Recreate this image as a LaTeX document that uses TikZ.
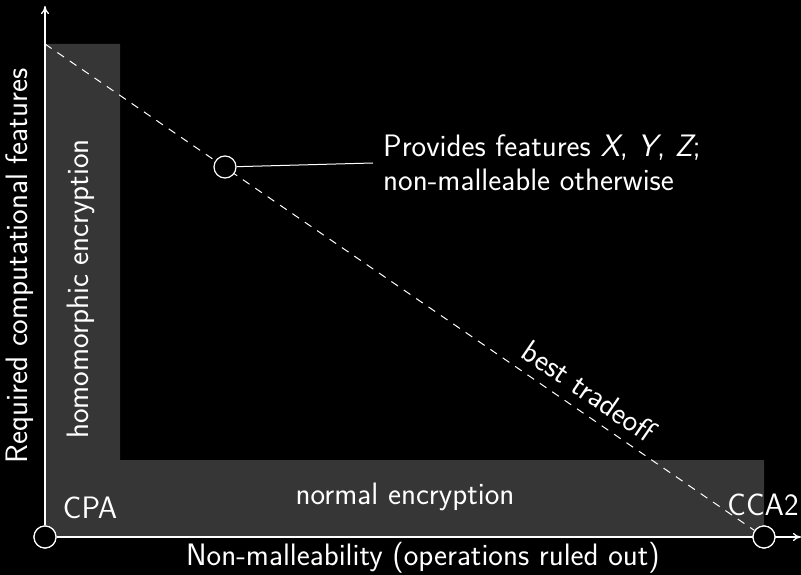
\documentclass[tikz,border=0pt]{standalone}
\usetikzlibrary{arrows.meta}
\definecolor{regfill}{HTML}{363636}
\begin{document}
\begin{tikzpicture}[x=1pt,y=-1pt,
  font=\sffamily\fontsize{31}{34}\selectfont,
  every node/.style={text=white},
  axis/.style={draw=white,line width=1.3pt,-{To[length=8pt,width=8pt]}},
  tradeoff/.style={draw=white,line width=1pt,dash pattern=on 8pt off 7pt},
  dot/.style={circle,draw=white,fill=black,line width=1.2pt,minimum size=22pt,inner sep=0pt},
  lbl/.style={inner sep=0pt}]
\fill[black] (0,0) rectangle (801,575);
\useasboundingbox (0,0) rectangle (801,575);
% region
\fill[regfill] (45,44) -- (120,44) -- (120,460) -- (764,460) -- (764,537) -- (45,537) -- cycle;
% axes
\coordinate (ytip) at (45,6);
\coordinate (xtip) at (801,537);
\coordinate (TL) at (45,44);
\node[dot] (O) at (45,537) {};
\node[dot] (cca) at (764,537) {};
\draw[axis] (O) -- (ytip);
\draw[axis] (O) -- (xtip);
\node[dot] (O) at (45,537) {};
\node[dot] (cca) at (764,537) {};
% tradeoff line
\draw[tradeoff] (TL) -- node[pos=0.75,sloped,above=10pt,lbl] (bt) {best tradeoff} (cca);
\node[dot] (pt) at (225,167) {};
% annotation
\node[anchor=west,align=left,inner xsep=10pt,inner ysep=2pt] (ann) at (373,163)
  {Provides features {\itshape X}, {\itshape Y}, {\itshape Z};\\non-malleable otherwise};
\draw[white,line width=1pt] (pt) -- (ann.west);
% labels
\node[lbl] (cpa) at (90,508) {CPA};
\node[lbl] (ccal) at (763,505) {CCA2};
\node[lbl] (norm) at (405,497) {normal encryption};
\node[lbl,rotate=90] (homo) at (81,289) {homomorphic encryption};
\node[lbl,rotate=90] (ylab) at (20,266) {Required computational features};
\node[lbl] (xlab) at (423,558) {Non-malleability (operations ruled out)};
\end{tikzpicture}
\end{document}
